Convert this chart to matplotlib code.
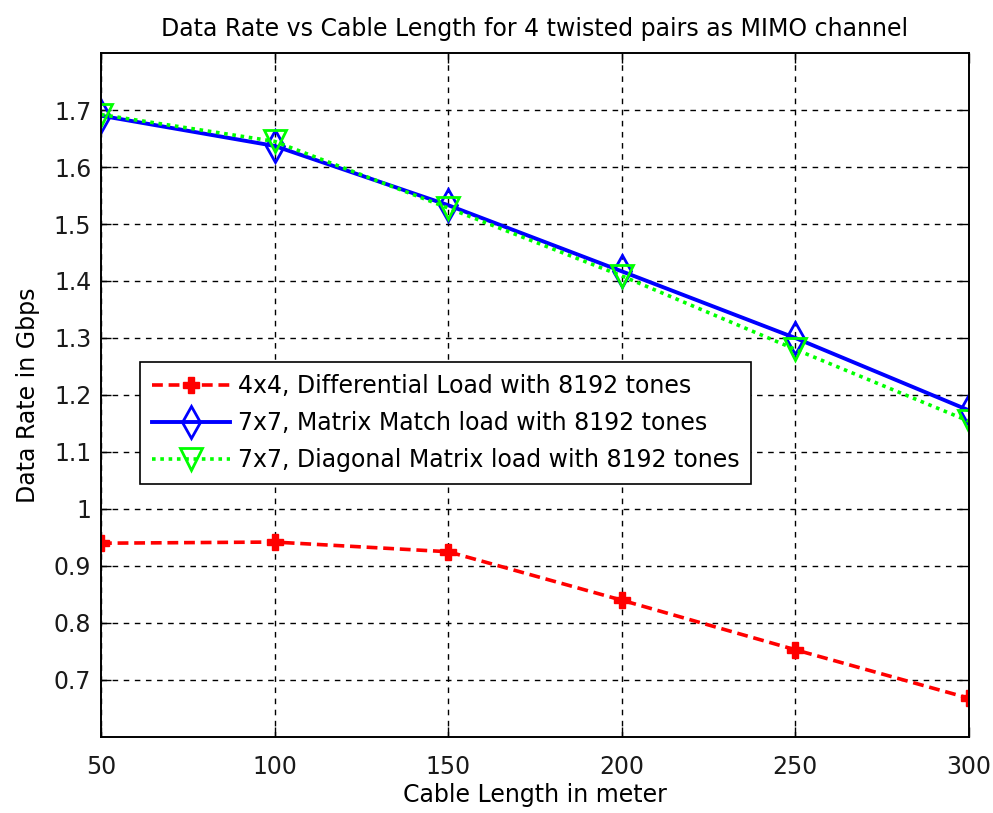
import matplotlib.pyplot as plt

plt.rcParams['font.family'] = ['DejaVu Sans']

cable_len = [50, 100, 150, 200, 250, 300]
rate_diff = [0.940, 0.942, 0.925, 0.840, 0.753, 0.668]
rate_match = [1.690, 1.637, 1.533, 1.417, 1.300, 1.173]
rate_diag = [1.692, 1.645, 1.528, 1.409, 1.280, 1.154]

y_ticks = [0.7, 0.8, 0.9, 1.0, 1.1, 1.2, 1.3, 1.4, 1.5, 1.6, 1.7]
y_labels = ['0.7', '0.8', '0.9', '1', '1.1', '1.2', '1.3', '1.4', '1.5', '1.6', '1.7']

fs = 17

fig = plt.figure(figsize=(9.93, 8.13), dpi=100)
ax = fig.add_axes([0.1017, 0.0935, 0.8741, 0.8413])

ax.plot(cable_len, rate_diff, color=(1, 0, 0), linewidth=2.6, linestyle=(0, (3.0, 1.6)),
        marker='P', markersize=12, mfc=(1, 0, 0), mec=(1, 0, 0),
        label='4x4, Differential Load with 8192 tones')
ax.plot(cable_len, rate_match, '-', color=(0, 0, 1), linewidth=2.8, marker='d', markersize=16,
        mfc='none', mec=(0, 0, 1), mew=2, label='7x7, Matrix Match load with 8192 tones')
ax.plot(cable_len, rate_diag, color=(0, 1, 0), linewidth=2.6, linestyle=(0, (1, 1.3)),
        marker='v', markersize=16, mfc='none', mec=(0, 1, 0), mew=2,
        label='7x7, Diagonal Matrix load with 8192 tones')

ax.set_xlim(50, 300)
ax.set_ylim(0.6, 1.8)
ax.set_xticks(cable_len)
ax.set_yticks(y_ticks)
ax.set_yticklabels(y_labels)
ax.grid(True, color='black', linestyle=(0, (4, 4)), linewidth=1.0)
ax.tick_params(direction='in', length=7, width=1, top=True, right=True, labelsize=fs,
               labelcolor='#1a1a1a', pad=7)
ax.tick_params(axis='x', pad=13)
for s in ax.spines.values():
    s.set_linewidth(1.4)

ax.set_title('Data Rate vs Cable Length for 4 twisted pairs as MIMO channel', fontsize=fs, pad=12)
ax.set_xlabel('Cable Length in meter', fontsize=fs, labelpad=3)
ax.set_ylabel('Data Rate in Gbps', fontsize=fs, labelpad=10)

leg = ax.legend(loc='upper left', bbox_to_anchor=(0.045, 0.548), borderaxespad=0, fontsize=fs,
                fancybox=False, edgecolor='black', framealpha=1, handlelength=3.3,
                handletextpad=0.35, borderpad=0.5, labelspacing=0.55)
leg.get_frame().set_linewidth(1.2)

fig.savefig('out.png', dpi=100)
